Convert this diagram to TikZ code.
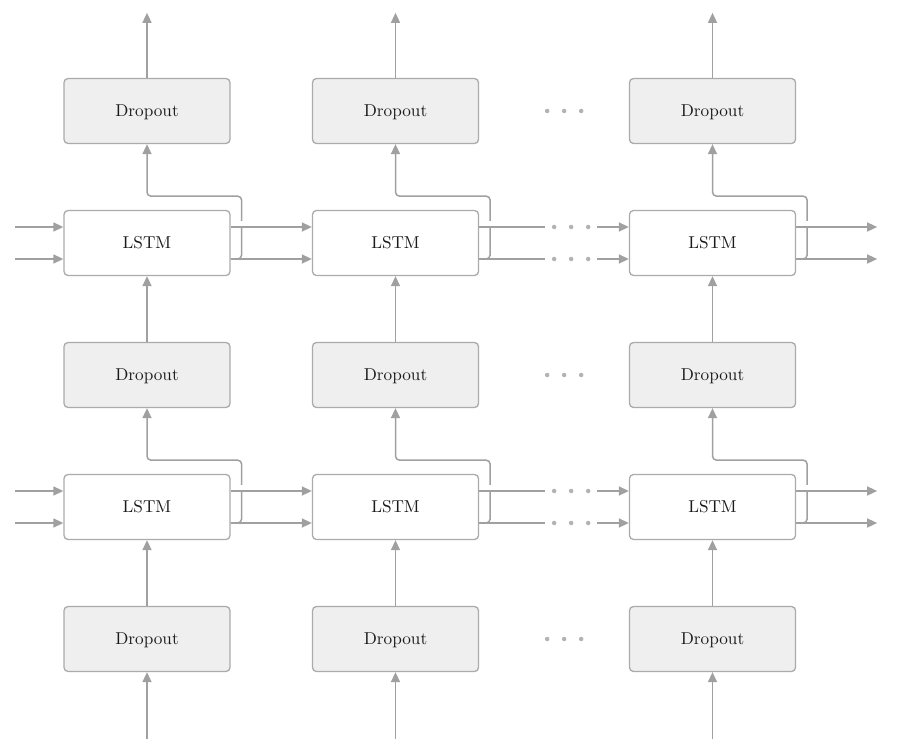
\documentclass[tikz,border=0pt]{standalone}
\usepackage{fontspec}
\newfontfamily\lmten{lmroman10-regular.otf}
\usetikzlibrary{arrows.meta,calc}
\definecolor{lncol}{HTML}{A0A0A0}
\definecolor{bdcol}{HTML}{ABABAB}
\definecolor{dfill}{HTML}{EFEFEF}
\definecolor{txtcol}{HTML}{1A1A1A}
\begin{document}
\begin{tikzpicture}[x=1pt,y=-1pt,
 box/.style={draw=bdcol,line width=1.3pt,rounded corners=4pt,minimum width=166pt,minimum height=65pt,inner sep=0pt,text height=11.8pt,text depth=0pt,text=txtcol,font=\lmten\fontsize{17.2}{20}\selectfont},
 dbox/.style={box,fill=dfill},
 lbox/.style={box,fill=white},
 arr/.style={draw=lncol,line width=1.5pt,-{Triangle[length=10pt,width=9pt]}},
 plain/.style={draw=lncol,line width=1.5pt},
 dotn/.style={circle,fill=lncol!80,inner sep=0pt,minimum size=4.5pt}]
\useasboundingbox (0,0) rectangle (900,754);
% nodes
\foreach \n/\x in {1/147,2/395.5,3/712.5}{
  \node[dbox] (Da\n) at (\x,111) {Dropout};
  \node[lbox] (La\n) at (\x,243) {LSTM};
  \node[dbox] (Db\n) at (\x,375) {Dropout};
  \node[lbox] (Lb\n) at (\x,507) {LSTM};
  \node[dbox] (Dc\n) at (\x,639) {Dropout};
  \draw[arr] (Da\n.north) -- ++(0,-65);
  \draw[arr] (Db\n.north) -- (La\n.south);
  \draw[arr] (Dc\n.north) -- (Lb\n.south);
  \draw[arr] ($(Dc\n.south)+(0,67)$) -- (Dc\n.south);
  % hidden state branches up to dropout
  \draw[arr,rounded corners=4pt] ($(La\n.east)+(0,16)$) -- ++(11,0) |- ($(Da\n.south)+(0,52)$) -- (Da\n.south);
  \draw[arr,rounded corners=4pt] ($(Lb\n.east)+(0,16)$) -- ++(11,0) |- ($(Db\n.south)+(0,52)$) -- (Db\n.south);
  \fill[white] ($(La\n.east)+(8,-22)$) rectangle ($(La\n.east)+(14,-16.5)$);
  \fill[white] ($(Lb\n.east)+(8,-22)$) rectangle ($(Lb\n.east)+(14,-16.5)$);
}
% horizontal connections
\foreach \L in {La,Lb}{
  \foreach \dy in {-16,16}{
    \draw[arr] ($(\L1.west)+(-48,\dy)$) -- ($(\L1.west)+(0,\dy)$);
    \draw[arr] ($(\L1.east)+(0,\dy)$) -- ($(\L2.west)+(0,\dy)$);
    \draw[plain] ($(\L2.east)+(0,\dy)$) -- ++(66,0);
    \node[dotn] at ($(\L2.east)+(75,\dy)$) {};
    \node[dotn] at ($(\L2.east)+(92,\dy)$) {};
    \node[dotn] at ($(\L2.east)+(109,\dy)$) {};
    \draw[arr] ($(\L3.west)+(-32,\dy)$) -- ($(\L3.west)+(0,\dy)$);
    \draw[arr] ($(\L3.east)+(0,\dy)$) -- ++(81,0);
  }
}
% dots between dropout columns
\foreach \D in {Da,Db,Dc}{
  \node[dotn] at ($(\D2.east)+(68,0)$) {};
  \node[dotn] at ($(\D2.east)+(85,0)$) {};
  \node[dotn] at ($(\D2.east)+(102,0)$) {};
}
\end{tikzpicture}
\end{document}
